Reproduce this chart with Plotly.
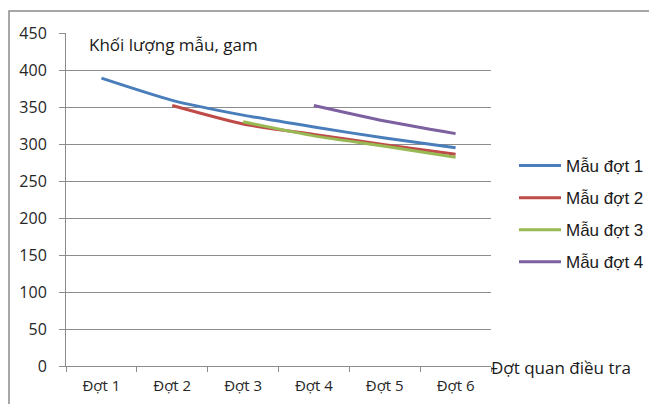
import plotly.graph_objects as go

categories = ["Đợt 1", "Đợt 2", "Đợt 3", "Đợt 4", "Đợt 5", "Đợt 6"]
series_names = ["Mẫu đợt 1", "Mẫu đợt 2", "Mẫu đợt 3", "Mẫu đợt 4"]
mau_dot_1 = [389, 359, 339, 323, 308, 295]
mau_dot_2 = [None, 352, 327, 313, 299, 286]
mau_dot_3 = [None, None, 330, 311, 297, 282]
mau_dot_4 = [None, None, None, 352, 331, 314]
y_ticks = [0, 50, 100, 150, 200, 250, 300, 350, 400, 450]
colors = ["#4A7EBB", "#BE4B48", "#98B954", "#7D60A0"]

W, H = 649, 404
L, R, T, B = 66, 491, 33, 366

fig = go.Figure()
for i, (name, vals) in enumerate(zip(series_names, [mau_dot_1, mau_dot_2, mau_dot_3, mau_dot_4])):
    fig.add_trace(go.Scatter(
        x=categories, y=vals, name=name, mode="lines",
        line=dict(color=colors[i], width=3, shape="spline", smoothing=0.6),
        legendgroup=f"g{i}", connectgaps=False,
    ))

pw = R - L
ph = B - T

def px_x(px):
    return (px - L) / pw

def px_y(py):
    return (B - py) / ph

fig.update_layout(
    width=W, height=H,
    margin=dict(l=L, r=W - R, t=T, b=H - B, pad=0, autoexpand=False),
    paper_bgcolor="white", plot_bgcolor="white",
    showlegend=True,
    legend=dict(
        x=px_x(514), y=px_y(148), xanchor="left", yanchor="top",
        font=dict(family="Liberation Sans", size=17, color="#1a1a1a"),
        tracegroupgap=7, bgcolor="rgba(0,0,0,0)", itemwidth=42,
    ),
    xaxis=dict(
        type="category", range=[-0.5, 5.5], automargin=False,
        showline=True, linecolor="#8c8c8c", linewidth=1,
        ticks="outside", ticklen=5, tickcolor="#8c8c8c", tickson="boundaries",
        showgrid=False, zeroline=False,
        tickfont=dict(family="Open Sans", size=15, color="#262626"),
        ticklabelstandoff=6,
    ),
    yaxis=dict(
        range=[0, 450], tickvals=y_ticks, automargin=False,
        showline=True, linecolor="#8c8c8c", linewidth=1,
        ticks="outside", ticklen=6, tickcolor="#8c8c8c",
        showgrid=True, gridcolor="#8c8c8c", gridwidth=1, zeroline=False,
        tickfont=dict(family="Open Sans", size=16, color="#262626"),
        ticklabelstandoff=9,
    ),
    shapes=[dict(
        type="rect", xref="paper", yref="paper",
        x0=px_x(9), x1=px_x(700), y0=px_y(450), y1=px_y(11),
        line=dict(color="#8a8a8a", width=1.5), fillcolor="rgba(0,0,0,0)", layer="below",
    )],
    annotations=[
        dict(text="Khối lượng mẫu, gam", xref="paper", yref="paper",
             x=px_x(87), y=px_y(44), xanchor="left", yanchor="middle", showarrow=False,
             font=dict(family="Open Sans", size=17, color="#1a1a1a")),
        dict(text="Đợt quan điều tra", xref="paper", yref="paper",
             x=px_x(489), y=px_y(367), xanchor="left", yanchor="middle", showarrow=False,
             font=dict(family="Open Sans", size=17, color="#1a1a1a")),
    ],
)

fig.write_html("out.html", config={"displayModeBar": False},
               post_script="document.body.style.margin='0px';")
